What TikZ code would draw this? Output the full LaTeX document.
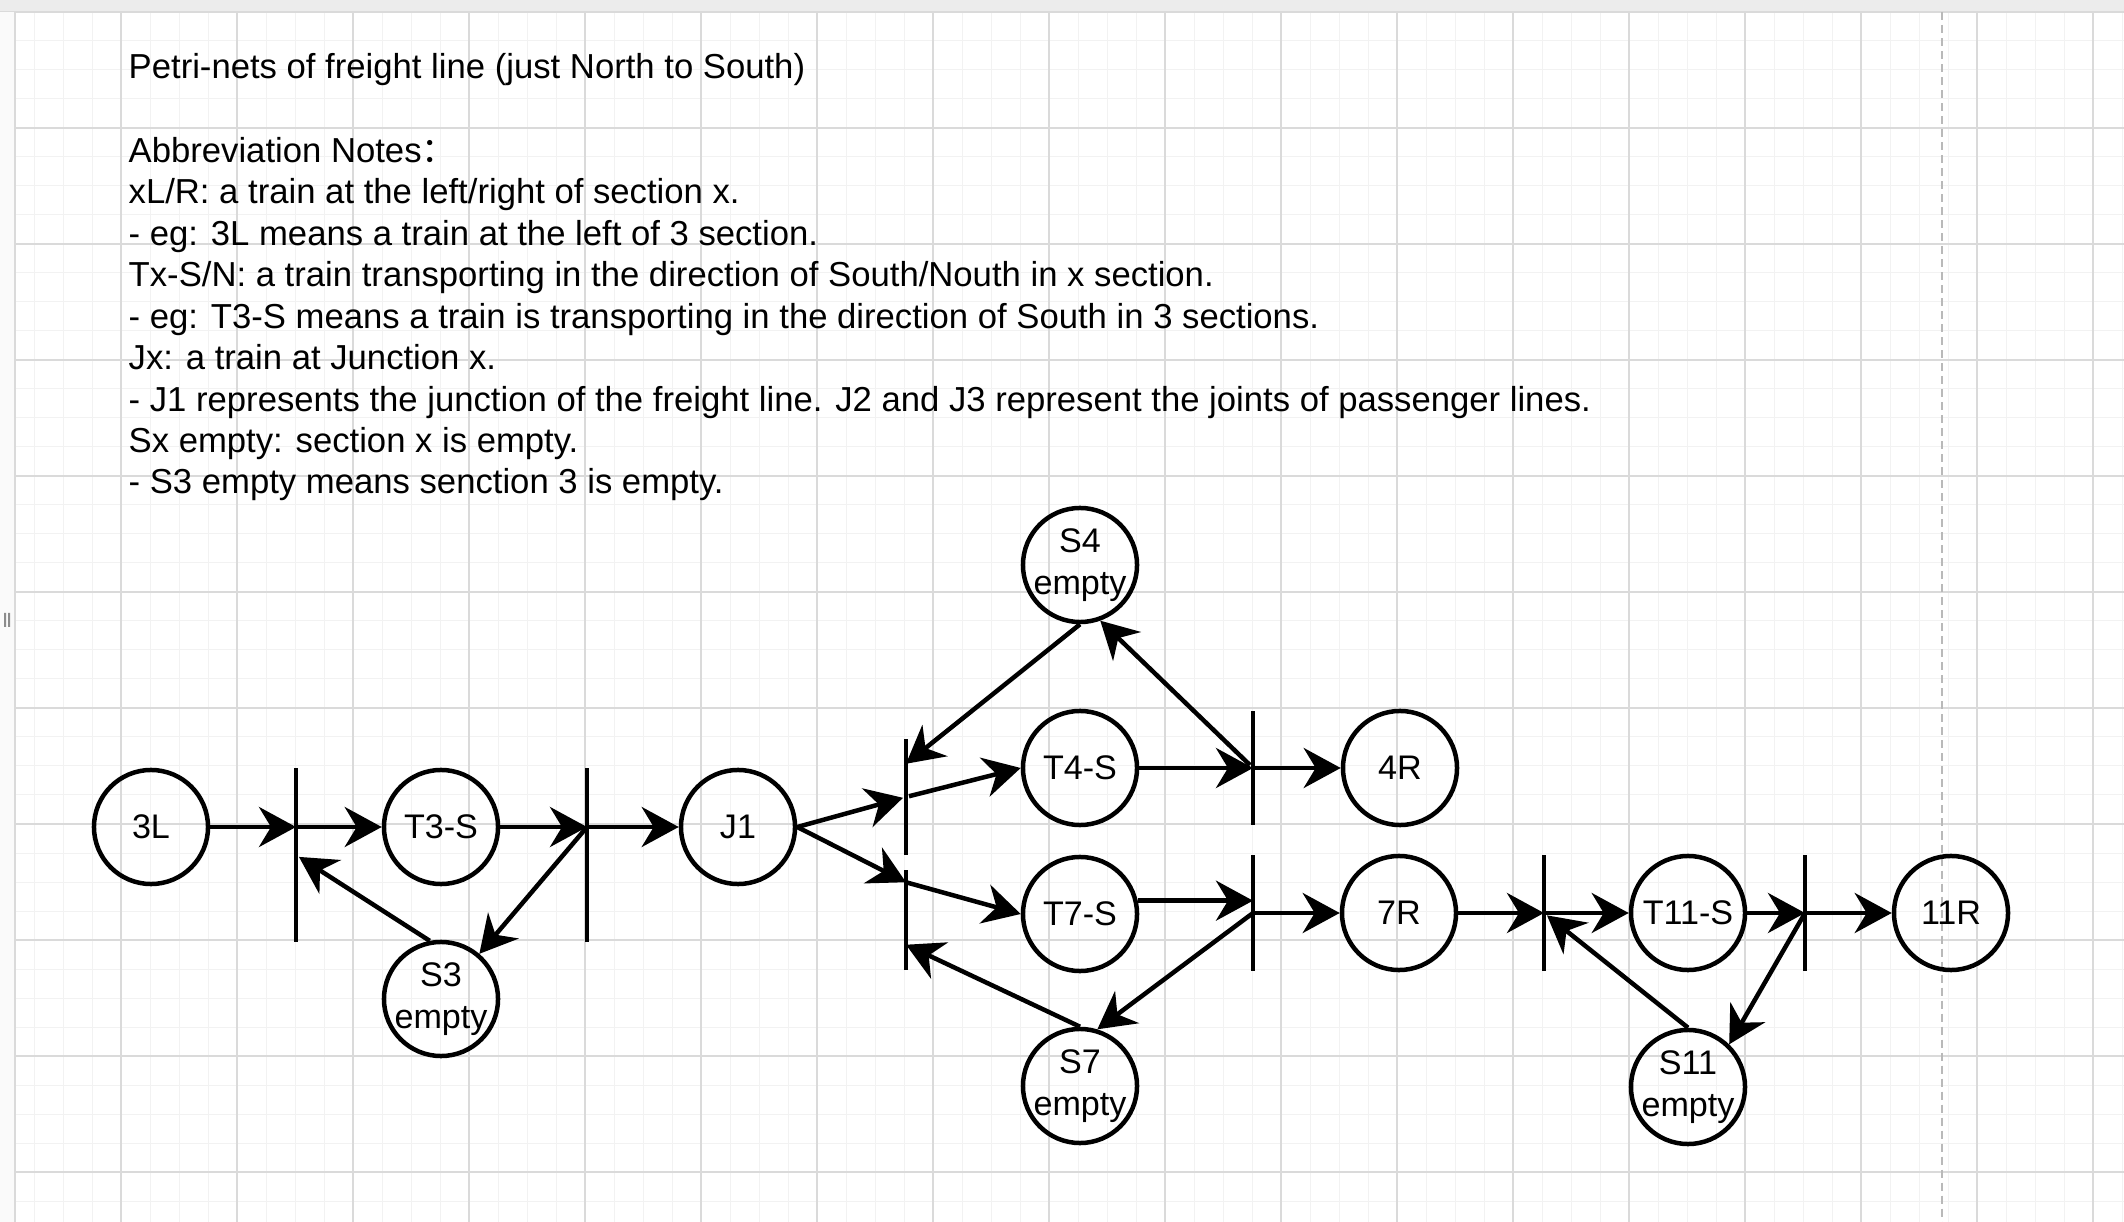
\documentclass[tikz,border=0pt]{standalone}
\usepackage{fontspec}
\setmainfont{Liberation Sans}
\newfontfamily\cjkfont{Noto Sans CJK SC}
\usepackage{xcolor}
\definecolor{gridmajor}{RGB}{218,218,218}
\definecolor{gridminor}{RGB}{242,242,242}
\definecolor{pageline}{RGB}{185,185,185}
\definecolor{topband}{RGB}{236,236,236}
\usepackage{tikz}
\usetikzlibrary{arrows.meta}
\usetikzlibrary{calc}
\newcommand{\txtfont}{\fontsize{9.7pt}{11.8pt}\selectfont}
\newcommand{\notefont}{\fontsize{9.86pt}{11.8pt}\selectfont}
\newcommand{\placesize}{1.14cm}
\newcommand{\strokewidth}{0.045cm}
\tikzset{
    common/.style={draw, line width=\strokewidth},
    place/.style={common, circle, minimum size=\placesize, inner sep=0pt, font=\txtfont},
    emptyplace/.style={place, label={[align=center, font=\txtfont]center:#1\\empty}},
    bar/.style={fill=black, rectangle, inner sep=0pt, minimum width=\strokewidth, minimum height=#1},
    arc/.style={line width=\strokewidth, -{Stealth[length=0.37cm, width=0.40cm, inset=0.12cm]}},
    minorgrid/.style={gridminor, line width=0.01cm},
    majorgrid/.style={gridmajor, line width=0.015cm},
    notes/.style={anchor=base west, inner sep=0pt, font=\notefont, align=left}
}

\begin{document}
\begin{tikzpicture}[x=0.01cm, y=-0.01cm]
    \useasboundingbox (0,0) rectangle (2124,1222);
    \fill[white] (0,0) rectangle (2124,1222);
    \foreach \gx in {34,63,...,2124} \draw[minorgrid] (\gx,12) -- (\gx,1222);
    \foreach \gy in {41,70,...,1222} \draw[minorgrid] (15,\gy) -- (2124,\gy);
    \foreach \gx in {121,237,...,2124} \draw[majorgrid] (\gx,12) -- (\gx,1222);
    \foreach \gy in {128,244,...,1222} \draw[majorgrid] (15,\gy) -- (2124,\gy);
    \fill[topband] (0,0) rectangle (2124,12);
    \draw[gridmajor, line width=0.02cm] (0,12) -- (2124,12);
    \fill[black!2] (0,12) rectangle (15,1222);
    \draw[gridmajor, line width=0.02cm] (15,12) -- (15,1222);
    \fill[black!45] (4,613) rectangle (6,627) (8,613) rectangle (10,627);
    \draw[pageline, line width=0.02cm, dash pattern=on 0.08cm off 0.05cm] (1942,12) -- (1942,1222);

    \node[notes] (title) at (128,79) {Petri-nets of freight line (just North to South)};
    \node[notes] (abbrev) at (128,494) {Abbreviation Notes{\cjkfont ：}\\
        xL/R: a train at the left/right of section x.\\
        - eg: 3L means a train at the left of 3 section.\\
        Tx-S/N: a train transporting in the direction of South/Nouth in x section.\\
        - eg: T3-S means a train is transporting in the direction of South in 3 sections.\\
        Jx: a train at Junction x.\\
        - J1 represents the junction of the freight line. J2 and J3 represent the joints of passenger lines.\\
        Sx empty: section x is empty.\\
        - S3 empty means senction 3 is empty.};

    \node[place] (p3L) at (151,827) {3L};
    \node[place] (pT3) at (441,827) {T3-S};
    \node[emptyplace=S3] (pS3) at (441,999) {};
    \node[place] (pJ1) at (738,827) {J1};
    \node[emptyplace=S4] (pS4) at (1080,565) {};
    \node[place] (pT4) at (1080,768) {T4-S};
    \node[place] (p4R) at (1400,768) {4R};
    \node[place] (pT7) at (1080,914) {T7-S};
    \node[place] (p7R) at (1399,913) {7R};
    \node[emptyplace=S7] (pS7) at (1080,1086) {};
    \node[place] (pT11) at (1688,913) {T11-S};
    \node[place] (p11R) at (1951,913) {11R};
    \node[emptyplace=S11] (pS11) at (1688,1087) {};

    \node[bar=1.74cm] (t1) at (296,855) {};
    \node[bar=1.74cm] (t2) at (587,855) {};
    \node[bar=1.15cm] (t3) at (906,797) {};
    \node[bar=1.00cm] (t4) at (906,920) {};
    \node[bar=1.14cm] (t5) at (1253,768) {};
    \node[bar=1.15cm] (t6) at (1253,913) {};
    \node[bar=1.16cm] (t7) at (1544,913) {};
    \node[bar=1.16cm] (t8) at (1805,913) {};
    \coordinate (t3in) at ($(t3.north)+(0,25)$);
    \coordinate (t4in) at ($(t4.north)+(0,13)$);
    \coordinate (t4back) at ($(t4.south)+(0,-26)$);

    \draw[arc] (p3L) -- (p3L -| t1);
    \draw[arc] (p3L -| t1) -- (pT3);
    \draw[arc] (pT3) -- (pT3 -| t2);
    \draw[arc] (pT3 -| t2) -- (pJ1);
    \draw[arc] (pS3.101) -- (t1);
    \draw[arc] (pT3 -| t2) -- (pS3);

    \draw[arc] (pJ1.east) -- (t3);
    \draw[arc] (t3) -- (pT4.west);
    \draw[arc] (pJ1.east) -- (t4in);
    \draw[arc] (t4in) -- (pT7.west);
    \draw[arc] (pS4.south) -- (t3in);
    \draw[arc] (t5) -- (pS4.-70);
    \draw[arc] (pT4) -- (pT4 -| t5);
    \draw[arc] (pT4 -| t5) -- (p4R);
    \draw[arc] (pT7.13) -- (pT7.13 -| t6);
    \draw[arc] (p7R -| t6) -- (p7R);
    \draw[arc] (p7R -| t6) -- (pS7.73);
    \draw[arc] (pS7.north) -- (t4back);

    \draw[arc] (p7R) -- (p7R -| t7);
    \draw[arc] (p7R -| t7) -- (pT11);
    \draw[arc] (pS11.north) -- (t7);
    \draw[arc] (pT11) -- (pT11 -| t8);
    \draw[arc] (pT11 -| t8) -- (pS11.46);
    \draw[arc] (pT11 -| t8) -- (p11R);
\end{tikzpicture}
\end{document}
